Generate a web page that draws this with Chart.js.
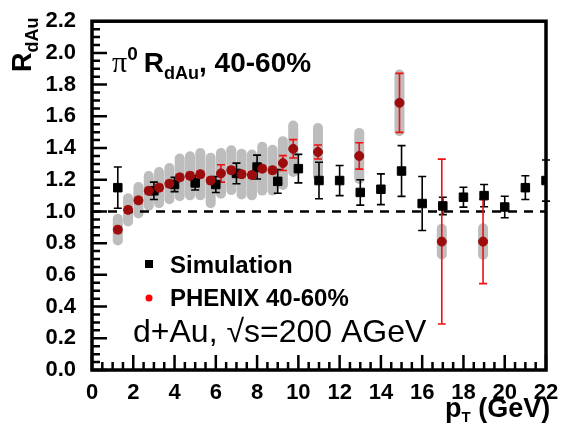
<!DOCTYPE html>
<html>
<head>
<meta charset="utf-8">
<script src="https://cdn.jsdelivr.net/npm/chart.js@4.4.1/dist/chart.umd.min.js"></script>
<style>
  body { margin: 0; background: #fff; }
  #wrap { width: 576px; height: 429px; }
</style>
</head>
<body>
<div id="wrap"><canvas id="rdauChart" width="576" height="429"></canvas></div>
<script>
// Simulation points (black squares) with error bars
const simX = [1.25, 3, 4, 5, 6, 7, 8, 9, 10, 11, 12, 13, 14, 15, 16, 17, 18, 19, 20, 21, 22];
const simY = [1.15, 1.13, 1.17, 1.18, 1.17, 1.24, 1.28, 1.19, 1.27, 1.195, 1.195, 1.12, 1.14, 1.255, 1.05, 1.035, 1.09, 1.10, 1.028, 1.15, 1.195];
const simErr = [0.13, 0.055, 0.045, 0.045, 0.05, 0.065, 0.075, 0.075, 0.09, 0.115, 0.095, 0.08, 0.097, 0.16, 0.17, 0.055, 0.063, 0.07, 0.068, 0.075, 0.13];

// PHENIX 40-60% points: value, stat error (red), systematic band (gray)
const phenixX = [1.25, 1.75, 2.25, 2.75, 3.25, 3.75, 4.25, 4.75, 5.25, 5.75, 6.25, 6.75, 7.25, 7.75, 8.25, 8.75, 9.25, 9.75, 10.95, 12.95, 14.9, 16.95, 18.95];
const phenixY = [0.885, 1.01, 1.07, 1.13, 1.15, 1.175, 1.215, 1.225, 1.235, 1.195, 1.24, 1.26, 1.235, 1.23, 1.27, 1.26, 1.305, 1.395, 1.375, 1.35, 1.685, 0.81, 0.81];
const phenixStat = [0.02, 0.02, 0.02, 0.02, 0.02, 0.02, 0.02, 0.02, 0.02, 0.02, 0.055, 0.02, 0.02, 0.02, 0.02, 0.02, 0.047, 0.058, 0.044, 0.083, 0.186, 0.52, 0.265];
const phenixSys = [0.1, 0.105, 0.115, 0.125, 0.13, 0.13, 0.15, 0.155, 0.165, 0.175, 0.16, 0.157, 0.16, 0.16, 0.17, 0.16, 0.17, 0.178, 0.183, 0.177, 0.21, 0.113, 0.115];

// axis ticks
const xTickVals = [0, 2, 4, 6, 8, 10, 12, 14, 16, 18, 20, 22];
const yTickVals = [0, 0.2, 0.4, 0.6, 0.8, 1.0, 1.2, 1.4, 1.6, 1.8, 2.0, 2.2];

const SANS = "'Liberation Sans', Arial, sans-serif";

// draws text pieces one after another; each piece: [text, font, dy]
function drawPieces(ctx, x, y, pieces) {
    pieces.forEach(p => {
        ctx.font = p[1];
        ctx.fillText(p[0], x, y + (p[2] || 0));
        x += ctx.measureText(p[0]).width;
    });
}

function errBar(ctx, px, top, bot, cap) {
    ctx.beginPath();
    ctx.moveTo(px, top); ctx.lineTo(px, bot);
    ctx.moveTo(px - cap, top); ctx.lineTo(px + cap, top);
    ctx.moveTo(px - cap, bot); ctx.lineTo(px + cap, bot);
    ctx.stroke();
}

const rootStyle = {
    id: 'rootStyle',
    beforeDatasetsDraw(chart) {
        const ctx = chart.ctx;
        const {x, y} = chart.scales;
        const area = chart.chartArea;
        ctx.save();

        // systematic bands
        ctx.fillStyle = '#bdbdbd';
        phenixX.forEach((v, i) => {
            const px = x.getPixelForValue(v);
            const top = y.getPixelForValue(phenixY[i] + phenixSys[i]);
            const bot = y.getPixelForValue(phenixY[i] - phenixSys[i]);
            ctx.beginPath();
            ctx.roundRect(px - 5, top, 10, bot - top, 5);
            ctx.fill();
        });

        // dashed line at 1
        ctx.strokeStyle = '#000';
        ctx.lineWidth = 2.5;
        ctx.setLineDash([9, 7]);
        const y1 = y.getPixelForValue(1);
        ctx.beginPath();
        ctx.moveTo(area.left, y1);
        ctx.lineTo(area.right, y1);
        ctx.stroke();
        ctx.setLineDash([]);

        // simulation error bars
        ctx.lineWidth = 1.6;
        ctx.strokeStyle = '#000';
        simX.forEach((v, i) => {
            errBar(ctx, x.getPixelForValue(v), y.getPixelForValue(simY[i] + simErr[i]), y.getPixelForValue(simY[i] - simErr[i]), 4);
        });

        // PHENIX stat errors
        ctx.strokeStyle = '#f01010';
        phenixX.forEach((v, i) => {
            errBar(ctx, x.getPixelForValue(v), y.getPixelForValue(phenixY[i] + phenixStat[i]), y.getPixelForValue(phenixY[i] - phenixStat[i]), 4);
        });
        ctx.restore();
    },
    afterDraw(chart) {
        const ctx = chart.ctx;
        const {x, y} = chart.scales;
        const a = chart.chartArea;
        ctx.save();
        ctx.strokeStyle = '#000';

        // inward ticks
        ctx.lineWidth = 2.5;
        ctx.beginPath();
        for (let v = 0; v <= 22.001; v += 0.5) {
            const px = x.getPixelForValue(v);
            const len = Math.abs(v % 2) < 0.01 ? 15 : 8;
            ctx.moveTo(px, a.bottom); ctx.lineTo(px, a.bottom - len);
        }
        for (let v = 0; v <= 2.2001; v += 0.05) {
            const py = y.getPixelForValue(v);
            const r = Math.round(v * 100) % 20;
            const len = r === 0 ? 15 : 8;
            ctx.moveTo(a.left, py); ctx.lineTo(a.left + len, py);
        }
        ctx.stroke();

        // frame
        ctx.lineWidth = 3.5;
        ctx.strokeRect(a.left, a.top, a.right - a.left, a.bottom - a.top);

        ctx.fillStyle = '#000';
        ctx.textBaseline = 'alphabetic';
        ctx.textAlign = 'left';

        // title inside plot
        drawPieces(ctx, 112, 72, [
            ['\u03c0', "30px 'Liberation Serif', serif", 0],
            ['0', 'bold 19px ' + SANS, -12],
            [' ', 'bold 22px ' + SANS, 0],
            ['R', 'bold 28px ' + SANS, 0],
            ['dAu', 'bold 18px ' + SANS, 7],
            [', 40-60%', 'bold 28px ' + SANS, 0]
        ]);

        // legend
        ctx.fillRect(145, 260, 8, 8);
        ctx.font = 'bold 24px ' + SANS;
        ctx.fillText('Simulation', 170, 273);
        ctx.fillStyle = '#ff0000';
        ctx.beginPath();
        ctx.arc(149, 298, 3.5, 0, Math.PI * 2);
        ctx.fill();
        ctx.fillStyle = '#000';
        ctx.fillText('PHENIX 40-60%', 170, 306);

        ctx.font = '32px ' + SANS;
        ctx.fillText('d+Au, \u221as=200 AGeV', 133, 342);

        // x title
        drawPieces(ctx, 445, 417, [
            ['p', 'bold 27px ' + SANS, 0],
            ['T', 'bold 15px ' + SANS, 5],
            [' (GeV)', 'bold 27px ' + SANS, 0]
        ]);

        // y title (rotated)
        ctx.translate(31, 72);
        ctx.rotate(-Math.PI / 2);
        drawPieces(ctx, 0, 0, [
            ['R', 'bold 27px ' + SANS, 0],
            ['dAu', 'bold 18px ' + SANS, 7]
        ]);
        ctx.restore();
    }
};

const ctx = document.getElementById('rdauChart').getContext('2d');
new Chart(ctx, {
    type: 'scatter',
    data: {
        datasets: [
            {
                label: 'PHENIX 40-60%',
                data: phenixX.map((v, i) => ({x: v, y: phenixY[i]})),
                pointStyle: 'circle',
                pointRadius: 4.5,
                pointBackgroundColor: '#9c0c0c',
                pointBorderColor: '#9c0c0c',
                pointBorderWidth: 1
            },
            {
                label: 'Simulation',
                data: simX.map((v, i) => ({x: v, y: simY[i]})),
                pointStyle: 'rect',
                pointRadius: 6,
                pointBackgroundColor: '#000',
                pointBorderColor: '#000',
                pointBorderWidth: 1
            }
        ]
    },
    options: {
        responsive: false,
        animation: false,
        layout: { padding: { top: 12, right: 30, left: 0, bottom: 0 } },
        plugins: {
            legend: { display: false },
            tooltip: { enabled: false }
        },
        scales: {
            x: {
                type: 'linear',
                min: 0,
                max: 22,
                afterBuildTicks: s => { s.ticks = xTickVals.map(v => ({value: v})); },
                afterFit: s => { s.height = 59; },
                grid: { display: false },
                border: { display: false },
                ticks: {
                    autoSkip: false,
                    maxRotation: 0,
                    padding: 2,
                    color: '#000',
                    font: { family: SANS, size: 22, weight: 'bold' },
                    callback: v => v
                }
            },
            y: {
                min: 0,
                max: 2.2,
                afterBuildTicks: s => { s.ticks = yTickVals.map(v => ({value: v})); },
                afterFit: s => { s.width = 92; },
                grid: { display: false },
                border: { display: false },
                ticks: {
                    autoSkip: false,
                    padding: 8,
                    color: '#000',
                    font: { family: SANS, size: 22, weight: 'bold' },
                    callback: v => v.toFixed(1)
                }
            }
        }
    },
    plugins: [rootStyle]
});
</script>
</body>
</html>
